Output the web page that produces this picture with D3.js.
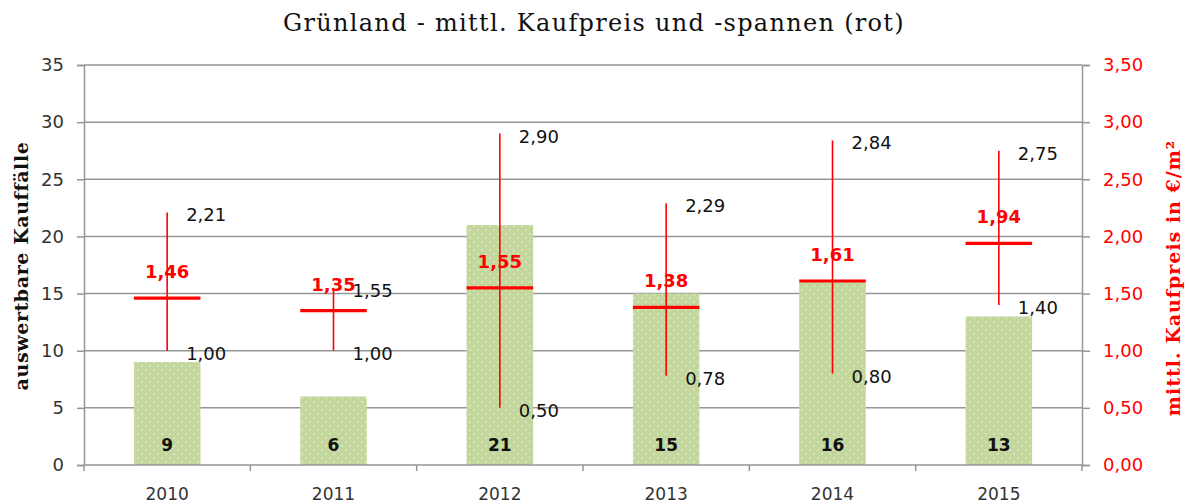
<!DOCTYPE html>
<html>
<head>
<meta charset="utf-8">
<script src="https://cdn.jsdelivr.net/npm/d3@7"></script>
<style>
  body { margin: 0; background: #fff; }
  svg { display: block; }
</style>
</head>
<body>
<svg id="chart" width="1189" height="504"></svg>
<script>
// data
const years = ["2010", "2011", "2012", "2013", "2014", "2015"];
const counts = [9, 6, 21, 15, 16, 13];
const meanPrice = [1.46, 1.35, 1.55, 1.38, 1.61, 1.94];
const maxPrice = [2.21, 1.55, 2.90, 2.29, 2.84, 2.75];
const minPrice = [1.00, 1.00, 0.50, 0.78, 0.80, 1.40];
const leftTicks = [0, 5, 10, 15, 20, 25, 30, 35];
const rightTicks = [0, 0.5, 1, 1.5, 2, 2.5, 3, 3.5];

const W = 1189, H = 504;
const m = { top: 65, right: 107, bottom: 39, left: 84 };
const red = "#ff0000";
const grid = "#969696";
const fmt = v => d3.format(".2f")(v).replace(".", ",");

const svg = d3.select("#chart");

// dotted fill for the bars
const pat = svg.append("defs").append("pattern")
    .attr("id", "dots")
    .attr("patternUnits", "userSpaceOnUse")
    .attr("width", 8).attr("height", 8);
pat.append("rect").attr("width", 8).attr("height", 8).attr("fill", "#c3d69b");
pat.append("circle").attr("cx", 2).attr("cy", 2).attr("r", 0.7).attr("fill", "#fff");
pat.append("circle").attr("cx", 6).attr("cy", 6).attr("r", 0.7).attr("fill", "#fff");

const x = d3.scaleBand()
    .domain(years)
    .range([m.left, W - m.right])
    .paddingInner(0.6)
    .paddingOuter(0.3);

const yL = d3.scaleLinear().domain([0, 35]).range([H - m.bottom, m.top]);
const yR = d3.scaleLinear().domain([0, 3.5]).range([H - m.bottom, m.top]);

// gridlines
svg.append("g")
    .selectAll("line")
    .data(leftTicks.slice(1))
    .enter().append("line")
    .attr("x1", m.left).attr("x2", W - m.right)
    .attr("y1", d => yL(d)).attr("y2", d => yL(d))
    .attr("stroke", grid).attr("stroke-width", 1.5);

// bars
svg.append("g")
    .selectAll("rect")
    .data(counts)
    .enter().append("rect")
    .attr("x", (d, i) => x(years[i]))
    .attr("y", d => yL(d))
    .attr("width", x.bandwidth())
    .attr("height", d => yL(0) - yL(d))
    .attr("fill", "url(#dots)");

// left axis
const axL = svg.append("g")
    .attr("transform", `translate(${m.left},0)`)
    .call(d3.axisLeft(yL).tickValues(leftTicks).tickSize(7).tickPadding(13));
axL.select(".domain").attr("stroke", grid).attr("stroke-width", 1.5);
axL.selectAll(".tick line").attr("stroke", grid).attr("stroke-width", 1.5);
axL.selectAll(".tick text")
    .attr("font-family", "DejaVu Sans, Verdana, sans-serif")
    .attr("font-size", 18).attr("fill", "#333");

// right axis
const axR = svg.append("g")
    .attr("transform", `translate(${W - m.right},0)`)
    .call(d3.axisRight(yR).tickValues(rightTicks).tickSize(8).tickPadding(13).tickFormat(fmt));
axR.select(".domain").attr("stroke", grid).attr("stroke-width", 1.5);
axR.selectAll(".tick line").attr("stroke", grid).attr("stroke-width", 1.5);
axR.selectAll(".tick text")
    .attr("font-family", "DejaVu Sans, Verdana, sans-serif")
    .attr("font-size", 18).attr("fill", red);

// bottom axis with ticks between categories
const bounds = d3.range(years.length + 1).map(i => m.left + i * (W - m.left - m.right) / years.length);
svg.append("line")
    .attr("x1", m.left).attr("x2", W - m.right)
    .attr("y1", yL(0)).attr("y2", yL(0))
    .attr("stroke", grid).attr("stroke-width", 1.5);
svg.append("g")
    .selectAll("line")
    .data(bounds)
    .enter().append("line")
    .attr("x1", d => d).attr("x2", d => d)
    .attr("y1", yL(0)).attr("y2", yL(0) + 6)
    .attr("stroke", grid).attr("stroke-width", 1.5);
svg.append("g")
    .selectAll("text")
    .data(years)
    .enter().append("text")
    .attr("x", d => x(d) + x.bandwidth() / 2)
    .attr("y", H - 4)
    .attr("text-anchor", "middle")
    .attr("font-family", "DejaVu Sans, Verdana, sans-serif")
    .attr("font-size", 17).attr("fill", "#333")
    .text(d => d);

// count labels inside bars
svg.append("g")
    .selectAll("text")
    .data(counts)
    .enter().append("text")
    .attr("x", (d, i) => x(years[i]) + x.bandwidth() / 2)
    .attr("y", yL(0) - 14)
    .attr("text-anchor", "middle")
    .attr("font-family", "DejaVu Sans, Verdana, sans-serif")
    .attr("font-weight", "bold")
    .attr("font-size", 17).attr("fill", "#111")
    .text(d => d);

// price ranges (red)
const cx = i => x(years[i]) + x.bandwidth() / 2;
const rng = svg.append("g");
rng.selectAll("line.v")
    .data(meanPrice)
    .enter().append("line")
    .attr("class", "v")
    .attr("x1", (d, i) => cx(i)).attr("x2", (d, i) => cx(i))
    .attr("y1", (d, i) => yR(maxPrice[i])).attr("y2", (d, i) => yR(minPrice[i]))
    .attr("stroke", red).attr("stroke-width", 1.6);
rng.selectAll("line.h")
    .data(meanPrice)
    .enter().append("line")
    .attr("class", "h")
    .attr("x1", (d, i) => x(years[i])).attr("x2", (d, i) => x(years[i]) + x.bandwidth())
    .attr("y1", d => yR(d)).attr("y2", d => yR(d))
    .attr("stroke", red).attr("stroke-width", 3.2);

// mean labels
rng.selectAll("text.mean")
    .data(meanPrice)
    .enter().append("text")
    .attr("class", "mean")
    .attr("x", (d, i) => cx(i))
    .attr("y", d => yR(d) - 20)
    .attr("text-anchor", "middle")
    .attr("font-family", "DejaVu Sans, Verdana, sans-serif")
    .attr("font-weight", "bold")
    .attr("font-size", 18).attr("fill", red)
    .text(fmt);

// max / min labels
const lbl = (arr, cls) => rng.selectAll("text." + cls)
    .data(arr)
    .enter().append("text")
    .attr("class", cls)
    .attr("x", (d, i) => cx(i) + 19)
    .attr("y", d => yR(d) + 9)
    .attr("font-family", "DejaVu Sans, Verdana, sans-serif")
    .attr("font-size", 18).attr("fill", "#111")
    .text(fmt);
lbl(maxPrice, "max");
lbl(minPrice, "min");

// titles
svg.append("text")
    .attr("x", 594).attr("y", 31)
    .attr("text-anchor", "middle")
    .attr("font-family", "DejaVu Serif, serif")
    .attr("font-size", 24).attr("letter-spacing", 1.3)
    .attr("fill", "#111")
    .text("Grünland - mittl. Kaufpreis und -spannen (rot)");

svg.append("text")
    .attr("transform", "translate(28,266) rotate(-90)")
    .attr("text-anchor", "middle")
    .attr("font-family", "DejaVu Serif, serif")
    .attr("font-weight", "bold")
    .attr("font-size", 19).attr("letter-spacing", 0.6)
    .attr("fill", "#111")
    .text("auswertbare Kauffälle");

svg.append("text")
    .attr("transform", "translate(1180,278) rotate(-90)")
    .attr("text-anchor", "middle")
    .attr("font-family", "DejaVu Serif, serif")
    .attr("font-weight", "bold")
    .attr("font-size", 19).attr("letter-spacing", 1)
    .attr("fill", red)
    .text("mittl. Kaufpreis in €/m²");
</script>
</body>
</html>
